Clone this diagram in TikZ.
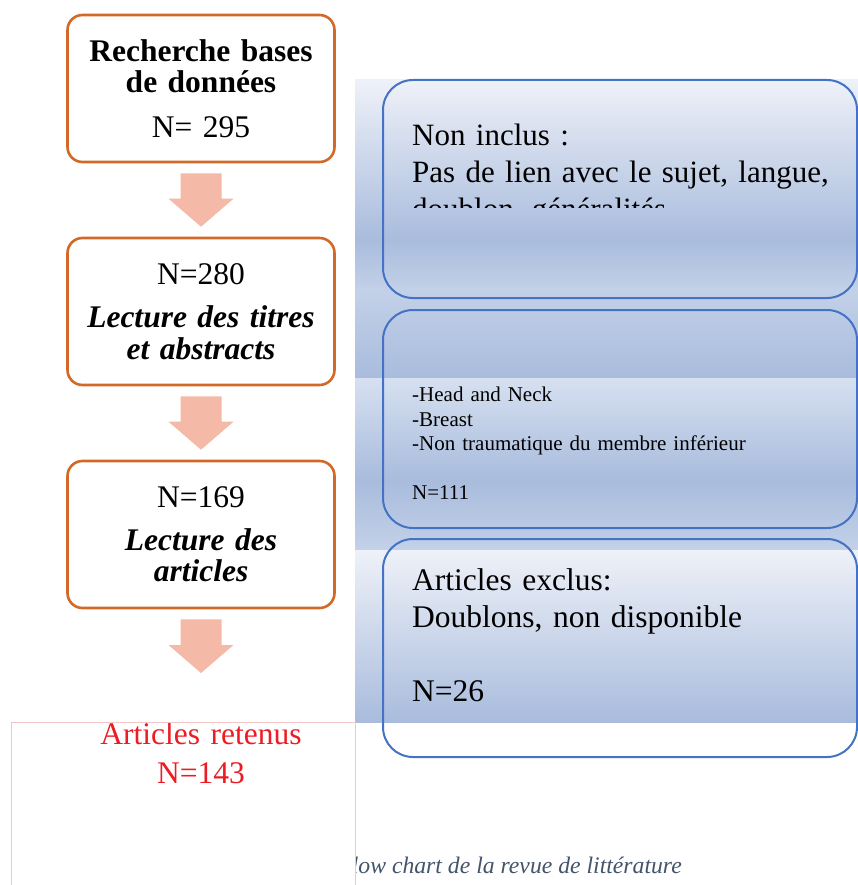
\documentclass[tikz,border=0pt]{standalone}
\usepackage{fontspec}
\setmainfont{Liberation Serif}
\usetikzlibrary{calc,positioning}

\definecolor{stageline}{RGB}{211,105,40}
\definecolor{exclline}{RGB}{68,114,196}
\definecolor{arrowfill}{RGB}{244,185,167}
\definecolor{bandlight}{RGB}{238,241,248}
\definecolor{banddark}{RGB}{169,188,221}
\definecolor{bandmid}{RGB}{195,209,232}
\definecolor{bandpale}{RGB}{214,224,240}
\definecolor{keptred}{RGB}{237,28,36}
\definecolor{framepink}{RGB}{245,198,200}
\definecolor{captiongrey}{RGB}{68,84,106}

\begin{document}
\begin{tikzpicture}[
  x=1pt, y=1pt,
  node distance=73.4pt,
  stage/.style={draw=stageline, line width=2.6pt, rounded corners=15pt, fill=white, minimum width=267pt, minimum height=147pt, text width=260pt, align=center, inner sep=0pt, font=\fontsize{31.5}{31.5}\selectfont},
  excl/.style={draw=exclline, line width=2pt, rounded corners=30pt, minimum width=474pt, minimum height=218pt},
  note/.style={anchor=north west, inner sep=0pt, text width=440pt, align=left, font=\fontsize{31}{37}\selectfont},
  smallnote/.style={note, font=\fontsize{21}{24.4}\selectfont},
  fatarrow/.style={fill=arrowfill, draw=none, to path={let \p1=(\tikztostart), \p2=(\tikztotarget) in
    (\x1-20.5pt,\y1-10pt) -- (\x1+20.5pt,\y1-10pt) -- (\x1+20.5pt,\y2+38pt) -- (\x1+32.5pt,\y2+38pt)
    -- (\x1,\y2+10pt) -- (\x1-32.5pt,\y2+38pt) -- (\x1-20.5pt,\y2+38pt) -- cycle}}
]
\useasboundingbox (0,0) rectangle (858,-885);
\fill[white] (0,0) rectangle (858,-885);

% shaded bands behind the exclusion boxes
\shade[top color=bandlight, bottom color=banddark] (355,-80) rectangle (858,-240);
\shade[top color=banddark, bottom color=bandmid] (355,-240) rectangle (858,-290);
\shade[top color=bandmid, bottom color=banddark] (355,-290) rectangle (858,-378);
\shade[top color=bandpale, bottom color=banddark] (355,-378) rectangle (858,-480);
\shade[top color=banddark, bottom color=bandmid] (355,-480) rectangle (858,-550);
\shade[top color=bandlight, bottom color=banddark] (355,-550) rectangle (858,-722);

% main steps
\node[stage] (search) at (201,-88.5) {\textbf{Recherche bases}\\\textbf{de données}\\[13.5pt]N= 295};
\node[stage, below=of search] (titles) {N=280\\[12pt]\textbf{\textit{Lecture des titres}}\\\textbf{\textit{et abstracts}}};
\node[stage, below=of titles] (reading) {N=169\\[11pt]\textbf{\textit{Lecture des}}\\\textbf{\textit{articles}}};
\node[text=keptred, anchor=north, inner sep=0pt, text width=300pt, align=center, font=\fontsize{31.5}{38.5}\selectfont] (kept) at (201,-722.5) {Articles retenus\\N=143};

\path[fatarrow] (search.south) to (titles.north);
\path[fatarrow] (titles.south) to (reading.north);
\path[fatarrow] (reading.south) to ([yshift=39.5pt]kept.north);

% exclusions
\node[excl] (noninc) at (620,-189) {};
\node[excl, below=10pt of noninc] (other) {};
\node[excl, below=9pt of other] (excluded) {};

\begin{scope}
  \clip (355,-80) rectangle (858,-207.5);
  \node[note] (noninctext) at ([shift={(30pt,-44.5pt)}]noninc.north west) {Non inclus :\\Pas de lien avec le sujet, langue,\\doublon, généralités};
\end{scope}
\node[smallnote] (othertext) at ([shift={(30pt,-78pt)}]other.north west) {-Head and Neck\\-Breast\\-Non traumatique du membre inférieur\\[24.4pt]N=111};
\node[note, font=\fontsize{31.5}{37}\selectfont] (excludedtext) at ([shift={(30pt,-30pt)}]excluded.north west) {Articles exclus:\\Doublons, non disponible\\[37pt]N=26};

% frame and caption
\draw[framepink, line width=0.8pt] (11,-885) -- (11,-722.5) -- (355,-722.5) -- (355,-885);
\begin{scope}
  \clip (356,-830) rectangle (858,-885);
  \node[anchor=base east, inner sep=0pt, text=captiongrey, font=\itshape\fontsize{23.7}{30}\selectfont] (caption) at (682,-873) {Flow chart de la revue de littérature};
\end{scope}
\end{tikzpicture}
\end{document}
